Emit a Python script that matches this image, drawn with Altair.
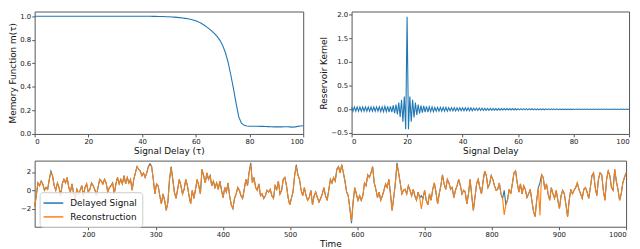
import altair as alt
import numpy as np
import pandas as pd

# ---------------- data ----------------
mem_tau = list(range(101))
mem_values = [
    1.0, 1.0, 1.0, 1.0, 1.0, 1.0, 1.0, 1.0, 1.0, 1.0,
    1.0, 1.0, 1.0, 1.0, 1.0, 1.0, 1.0, 1.0, 1.0, 1.0,
    1.0, 1.0, 1.0, 1.0, 1.0, 1.0, 1.0, 1.0, 1.0, 1.0,
    1.0, 1.0, 1.0, 1.0, 1.0, 1.0, 1.0, 1.0, 1.0, 1.0,
    1.0, 1.0, 1.0, 1.0, 0.999, 0.999, 0.998, 0.998, 0.997, 0.996,
    0.995, 0.994, 0.992, 0.990, 0.988, 0.985, 0.982, 0.978, 0.974, 0.968,
    0.961, 0.952, 0.940, 0.926, 0.910, 0.893, 0.874, 0.852, 0.826, 0.795,
    0.752, 0.692, 0.612, 0.505, 0.390, 0.262, 0.145, 0.092, 0.073, 0.068,
    0.066, 0.066, 0.065, 0.065, 0.064, 0.064, 0.063, 0.062, 0.061, 0.060,
    0.060, 0.060, 0.060, 0.061, 0.061, 0.060, 0.058, 0.060, 0.064, 0.068,
    0.070,
]

kernel_tau = list(np.arange(0, 100.5, 0.5))
kernel_values = [
    0.05, -0.04, 0.05, -0.04, 0.05, -0.04, 0.05, -0.04, 0.05, -0.04,
    0.05, -0.04, 0.05, -0.04, 0.05, -0.04, 0.05, -0.04, 0.05, -0.04,
    0.05, -0.05, 0.05, -0.05, 0.06, -0.05, 0.06, -0.06, 0.06, -0.06,
    0.08, -0.08, 0.10, -0.11, 0.14, -0.16, 0.20, -0.26, 0.27, -0.42,
    1.95, -0.42, 0.27, -0.26, 0.20, -0.17, 0.14, -0.12, 0.10, -0.09,
    0.08, -0.07, 0.07, -0.06, 0.06, -0.06, 0.05, -0.05, 0.05, -0.05,
    0.04, -0.04, 0.04, -0.04, 0.04, -0.04, 0.04, -0.04, 0.04, -0.04,
    0.035, -0.035, 0.035, -0.035, 0.035, -0.035, 0.03, -0.03, 0.03, -0.03,
    0.03, -0.03, 0.03, -0.03, 0.03, -0.03, 0.03, -0.03, 0.025, -0.025,
    0.025, -0.025, 0.025, -0.025, 0.025, -0.025, 0.02, -0.02, 0.02, -0.02,
    0.02, -0.02, 0.02, -0.02, 0.02, -0.02, 0.02, -0.02, 0.015, -0.015,
    0.015, -0.015, 0.015, -0.015, 0.015, -0.015, 0.015, -0.015, 0.015, -0.015,
    0.012, -0.012, 0.012, -0.012, 0.012, -0.012, 0.012, -0.012, 0.012, -0.012,
    0.01, -0.01, 0.01, -0.01, 0.01, -0.01, 0.01, -0.01, 0.01, -0.01,
    0.008, -0.008, 0.008, -0.008, 0.008, -0.008, 0.008, -0.008, 0.008, -0.008,
    0.006, -0.006, 0.006, -0.006, 0.006, -0.006, 0.006, -0.006, 0.006, -0.006,
    0.005, -0.005, 0.005, -0.005, 0.005, -0.005, 0.005, -0.005, 0.005, -0.005,
    0.005, -0.005, 0.005, -0.005, 0.005, -0.005, 0.005, -0.005, 0.005, -0.005,
    0.005, -0.005, 0.005, -0.005, 0.005, -0.005, 0.005, -0.005, 0.005, -0.005,
    0.005, -0.005, 0.005, -0.005, 0.005, -0.005, 0.005, -0.005, 0.005, -0.005,
    0.005,
]

time_start, time_end = 120, 1000
delayed_signal = [
    -1.8, -0.6, 0.8, 0.5, 1.0, 0.7, 0.0, 0.3, 0.1, 1.2,
    2.1, 1.6, 0.5, 0.0, 0.8, 0.3, -0.6, 0.7, 1.2, 0.8,
    1.4, 0.3, -0.2, 0.7, -0.4, -0.9, 0.1, -0.4, 0.0, 0.5,
    -0.6, 0.3, 0.7, -0.2, 0.1, 0.8, 0.5, 0.1, -0.6, 0.3,
    1.2, 1.0, 0.7, 1.2, 0.8, -0.2, 0.3, 0.5, 0.8, -0.4,
    0.7, 1.4, 0.7, 1.2, 0.7, 1.6, 0.7, 1.4, 0.8, 1.2,
    0.0, 1.2, 1.9, 2.6, 2.3, 2.1, 1.6, 1.9, 1.4, 1.9,
    2.6, 2.9, 2.6, 1.2, -0.4, 0.7, 0.5, -0.6, -1.5, -0.4,
    -1.1, -2.2, -1.3, 1.2, 2.6, 1.2, -0.2, -0.9, 0.1, 1.2,
    0.5, -0.4, 0.1, 1.2, 0.5, -0.6, -1.5, 0.0, -0.9, 0.1,
    1.2, 0.5, -0.4, 2.3, 1.6, 0.8, 1.9, 1.2, 1.6, 0.5,
    1.0, 0.3, 0.8, 0.1, 1.0, 0.0, -0.8, 0.3, -0.2, 0.8,
    -0.6, -1.6, -2.0, -0.9, -0.4, 0.3, 0.0, -0.6, -0.9, 0.1,
    1.2, 0.5, 2.0, 3.0, 0.8, 1.4, 0.3, 0.0, 0.7, -0.6,
    -0.4, -0.9, -0.6, 0.0, -0.2, 0.1, -0.6, -0.9, 0.5, 0.1,
    1.0, -0.4, 0.0, 1.2, 1.4, 0.5, -0.8, -1.6, -0.9, -0.2,
    1.6, 2.8, 1.7, 1.2, 0.0, -0.6, 0.3, -0.6, -1.1, -0.8,
    0.0, -1.6, -0.6, -0.2, -0.8, -1.3,
    -0.9, -0.4, 0.3, -0.6, -1.1, 0.0, 1.2, 0.8, 1.4, 1.0,
    2.3, 2.6, 1.9, 2.8, 1.9, 1.0, -0.2, -0.6, -2.0, -3.6,
    -1.3, 0.3, -0.4, -1.1, -0.6, -1.1, -0.6, 0.8, 0.5, 1.7,
    1.4, 1.9, 2.6, 0.8, 0.1, -0.8, -0.2, -1.1, -0.6, 0.0,
    0.7, 0.3, 1.2, -0.4, -2.2, -0.8, 0.8, 3.0, 1.9, 0.8,
    -0.4, 0.0, 0.1, -0.4, 0.5, 0.0, -0.6, 0.1, -0.6, -1.1,
    -0.2, -0.8, -0.6, -0.9, 0.0, -1.1, -1.6, -0.4, -1.1, 0.1,
    0.8, -0.2, -1.5, -0.4, 0.5, 1.7, 0.7, 0.1, 1.2, 0.8,
    0.1, 0.3, -0.8, 0.0, 0.5, 1.2, 0.5, -0.4, 0.0, -0.2,
    -1.5, -0.4, 1.2, -0.6, -2.2, -0.8, 0.7, 1.2, 0.3, -0.4,
    1.0, 2.1, 1.6, 0.3, 0.7, 1.6, 1.2, 0.5, 0.0, 0.1,
    0.8, -0.4, -0.9, 0.0, -1.6, -1.1, 0.1, -0.4, 0.7, 1.9,
    2.1, 0.8, -0.2, 0.7, -0.4, 0.5, 0.1, -0.8, -0.4, 0.1,
    -1.1, -2.3, -2.9, -1.1, 0.3, 0.8, 1.7, 1.4, 0.1, 0.7,
    -0.4, -1.1, 0.3, -0.4, -0.9, 0.0, -1.1, -2.0, -0.6, 0.0,
    -0.4, -1.6, -2.9, -1.1, 0.1, -0.4, 0.0, 0.3, 0.8, 0.1,
    -0.4, -0.9, 0.1, 0.3, -0.2, -0.9, 0.3, 1.6, 1.9, 0.3,
    -0.6, 1.2, 1.9, 1.7, 0.0, -1.1, 1.2, 2.1, 1.6, 0.3,
    0.0, 2.3, 1.0, 0.1, -1.1, -0.4, 0.8, 1.4, 1.9,
]
# reconstruction follows the delayed signal closely; small misses at a few extremes
recon_overrides = {10: 1.95, 71: 2.75, 84: 2.45, 133: 2.8, 161: 2.65,
                   195: -3.4, 223: 2.8, 238: -2.05, 289: -2.7, 311: -2.75}
reconstruction = list(delayed_signal)
for i, v in recon_overrides.items():
    reconstruction[i] = v

n = len(delayed_signal)
times = np.linspace(time_start, time_end, n)

series_names = ["Delayed Signal", "Reconstruction"]
series_colors = ["#1f77b4", "#ff7f0e"]

mem_df = pd.DataFrame({"tau": mem_tau, "m": mem_values})
ker_df = pd.DataFrame({"tau": kernel_tau, "k": kernel_values})
sig_df = pd.DataFrame({
    "time": np.concatenate([times, times]),
    "value": delayed_signal + reconstruction,
    "series": [series_names[0]] * n + [series_names[1]] * n,
})

# ---------------- charts ----------------
W_LEFT, W_RIGHT, H_TOP = 272, 281, 124
GAP = 13
W_BOTTOM = 599
H_BOTTOM = 67

top_left = alt.Chart(mem_df).mark_line(color="#1f77b4", strokeWidth=1.1).encode(
    x=alt.X("tau:Q", scale=alt.Scale(domain=[0, 100], nice=False, zero=False),
            axis=alt.Axis(values=[0, 20, 40, 60, 80, 100], title="Signal Delay (τ)")),
    y=alt.Y("m:Q", scale=alt.Scale(domain=[0, 1.04], nice=False),
            axis=alt.Axis(values=[0, 0.2, 0.4, 0.6, 0.8, 1.0], format=".1f",
                          title="Memory Function m(τ)")),
).properties(width=W_LEFT, height=H_TOP)

top_right = alt.Chart(ker_df).mark_line(color="#1f77b4", strokeWidth=1.1).encode(
    x=alt.X("tau:Q", scale=alt.Scale(domain=[0, 100], nice=False, zero=False),
            axis=alt.Axis(values=[0, 20, 40, 60, 80, 100], title="Signal Delay")),
    y=alt.Y("k:Q", scale=alt.Scale(domain=[-0.52, 2.06], nice=False, zero=False),
            axis=alt.Axis(values=[-0.5, 0.0, 0.5, 1.0, 1.5, 2.0], format=".1f",
                          title="Reservoir Kernel")),
).properties(width=W_RIGHT, height=H_TOP)

bottom = alt.Chart(sig_df).mark_line(strokeWidth=1.1).encode(
    x=alt.X("time:Q", scale=alt.Scale(domain=[time_start, time_end], nice=False, zero=False),
            axis=alt.Axis(values=list(range(200, 1001, 100)), format="d", title="Time")),
    y=alt.Y("value:Q", scale=alt.Scale(domain=[-4.0, 3.25], nice=False, zero=False),
            axis=alt.Axis(values=[-2, 0, 2], format="d", title=None)),
    color=alt.Color("series:N",
                    scale=alt.Scale(domain=series_names, range=series_colors),
                    legend=alt.Legend(title=None, orient="none", legendX=5, legendY=183,
                                      symbolType="M-2,0H2", symbolSize=100,
                                      symbolStrokeWidth=1.5, labelFontSize=9,
                                      labelOffset=11, symbolOffset=3,
                                      fillColor="rgba(255,255,255,0.8)",
                                      strokeColor="#cccccc", cornerRadius=3,
                                      padding=5, rowPadding=3)),
).properties(width=W_BOTTOM, height=H_BOTTOM)

top = alt.hconcat(top_left, top_right, spacing=GAP)
chart = alt.vconcat(top, bottom, spacing=3, padding=0).configure(
    font="DejaVu Sans"
).configure_axis(
    labelFont="DejaVu Sans", titleFont="DejaVu Sans",
    labelFontSize=7, titleFontSize=9, titleFontWeight="normal",
    labelColor="#222222", titleColor="#111111",
    tickColor="#555555", tickSize=3, labelPadding=1, titlePadding=2,
    grid=False, domain=False,
).configure_legend(
    labelFont="DejaVu Sans", labelColor="#111111",
).configure_view(stroke="#555555", strokeWidth=1)

chart.save("out.html", embed_options={"renderer": "svg", "actions": False})
